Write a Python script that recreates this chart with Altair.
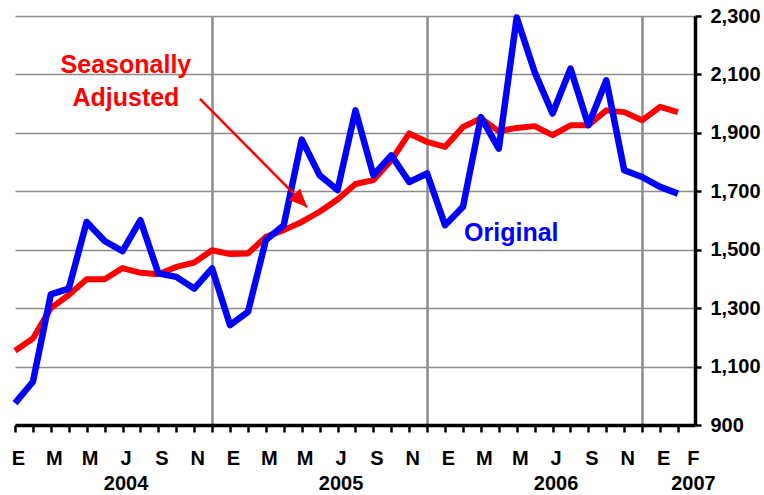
import altair as alt
import pandas as pd

# ---------------- data ----------------
month_index = list(range(38))  # Jan 2004 .. Feb 2007

original = [975, 1048, 1347, 1367, 1595, 1530, 1495, 1601, 1419, 1407, 1367, 1436,
            1242, 1287, 1533, 1584, 1877, 1755, 1704, 1977, 1755, 1823, 1732, 1761,
            1584, 1647, 1954, 1846, 2295, 2108, 1966, 2120, 1926, 2080, 1772, 1749,
            1715, 1692]

adjusted = [1154, 1196, 1300, 1345, 1399, 1399, 1437, 1421, 1416, 1441, 1456, 1498,
            1485, 1487, 1544, 1567, 1595, 1630, 1672, 1725, 1738, 1806, 1898, 1869,
            1852, 1920, 1949, 1906, 1917, 1923, 1892, 1926, 1926, 1977, 1971, 1943,
            1989, 1971]

month_labels = ["E", "M", "M", "J", "S", "N",
                "E", "M", "M", "J", "S", "N",
                "E", "M", "M", "J", "S", "N",
                "E", "F"]
month_label_pos = [0, 2, 4, 6, 8, 10,
                   12, 14, 16, 18, 20, 22,
                   24, 26, 28, 30, 32, 34,
                   36, 37.67]
year_labels = ["2004", "2005", "2006", "2007"]
year_label_pos = [6, 18, 30, 37.67]

year_breaks = [11, 23, 35]
y_ticks = [900, 1100, 1300, 1500, 1700, 1900, 2100, 2300]

# annotations (data coordinates)
sa_text = ["Seasonally", "Adjusted"]
sa_text_x = [6.19, 6.19]
sa_text_y = [2104, 1992]
orig_text = ["Original"]
orig_text_x = [27.7]
orig_text_y = [1531]
arrow_from = (10.32, 2016)
arrow_to = (16.3, 1646)

# ---------------- build ----------------
df = pd.DataFrame({"m": month_index, "original": original, "adjusted": adjusted})

FONT = "Liberation Sans"
GRID = "#8c8c8c"

x_scale = alt.Scale(domain=[0, 37.95], nice=False, zero=False)
y_scale = alt.Scale(domain=[900, 2300], nice=False, zero=False)

# label expression (multi-line for year labels)
parts = []
for p, lab in zip(month_label_pos, month_labels):
    if p in year_label_pos:
        yr = year_labels[year_label_pos.index(p)]
        parts.append(f"datum.value == {p} ? ['{lab}', '{yr}']")
    else:
        parts.append(f"datum.value == {p} ? '{lab}'")
label_expr = " : ".join(parts) + " : ''"

grid_axis = alt.Axis(values=year_breaks, grid=True, gridColor=GRID, gridWidth=2.5,
                     labels=False, ticks=False, domain=False, title=None, orient="bottom")
tick_axis = alt.Axis(values=month_index, grid=False, labels=False, ticks=True,
                     tickSize=7, tickWidth=2.5, tickColor="black",
                     domain=True, domainColor="black", domainWidth=3.5,
                     title=None, orient="bottom")
label_axis = alt.Axis(values=month_label_pos, grid=False, ticks=False, tickSize=0,
                      domain=False, labels=True, labelExpr=label_expr,
                      labelFont=FONT, labelFontSize=20, labelFontWeight="bold",
                      labelColor="black", labelPadding=23, labelLineHeight=25,
                      labelOverlap=False, labelFlush=False, labelOffset=3,
                      labelAngle=0, title=None, orient="bottom")
y_axis = alt.Axis(values=y_ticks, orient="right", format=",.0f", grid=True,
                  gridColor=GRID, gridWidth=1.5, tickSize=6, tickWidth=2.5,
                  tickColor="black", domainColor="black", domainWidth=3.5,
                  labelFont=FONT, labelFontSize=20, labelFontWeight="bold",
                  labelColor="black", labelPadding=9, labelBaseline="middle",
                  labelFlush=False, labelOverlap=False, title=None)

red = alt.Chart(df).mark_line(color="#ff0000", strokeWidth=6, strokeJoin="round").encode(
    x=alt.X("m:Q", scale=x_scale, axis=grid_axis),
    y=alt.Y("adjusted:Q", scale=y_scale, axis=y_axis),
)
blue = alt.Chart(df).mark_line(color="#0000ff", strokeWidth=6.5, strokeJoin="round").encode(
    x=alt.X("m:Q", scale=x_scale, axis=tick_axis),
    y=alt.Y("original:Q", scale=y_scale, axis=None),
)

sa_df = pd.DataFrame({"x": sa_text_x, "y": sa_text_y, "t": sa_text})
sa_layer = alt.Chart(sa_df).mark_text(font=FONT, fontSize=25, fontWeight="bold",
                                      color="#ff0000", align="center",
                                      baseline="alphabetic").encode(
    x=alt.X("x:Q", scale=x_scale, axis=label_axis),
    y=alt.Y("y:Q", scale=y_scale, axis=None),
    text="t:N",
)
orig_df = pd.DataFrame({"x": orig_text_x, "y": orig_text_y, "t": orig_text})
orig_layer = alt.Chart(orig_df).mark_text(font=FONT, fontSize=25, fontWeight="bold",
                                          color="#0000ff", align="center",
                                          baseline="alphabetic").encode(
    x=alt.X("x:Q", scale=x_scale, axis=None),
    y=alt.Y("y:Q", scale=y_scale, axis=None),
    text="t:N",
)

arrow_df = pd.DataFrame({"x": [arrow_from[0]], "y": [arrow_from[1]],
                         "x2": [arrow_to[0]], "y2": [arrow_to[1]]})
arrow_line = alt.Chart(arrow_df).mark_rule(color="#ff0000", strokeWidth=2.5).encode(
    x=alt.X("x:Q", scale=x_scale, axis=None),
    y=alt.Y("y:Q", scale=y_scale, axis=None),
    x2="x2:Q", y2="y2:Q",
)
head_df = pd.DataFrame({"x": [arrow_to[0]], "y": [arrow_to[1]]})
arrow_head = alt.Chart(head_df).mark_point(
    shape="M0,0L0.45,1L-0.45,1Z", filled=True, color="#ff0000", opacity=1,
    size=1300, angle=135, strokeWidth=0,
).encode(
    x=alt.X("x:Q", scale=x_scale, axis=None),
    y=alt.Y("y:Q", scale=y_scale, axis=None),
)

chart = alt.layer(red, blue, sa_layer, orig_layer, arrow_line, arrow_head).resolve_axis(
    x="independent", y="independent"
).properties(
    width=680, height=409,
    autosize=alt.AutoSizeParams(type="none"),
    padding={"left": 15, "top": 16, "right": 69, "bottom": 70},
    background="white",
).configure_view(stroke=None)

chart.save("out.html", embed_options={"renderer": "svg", "actions": False})
